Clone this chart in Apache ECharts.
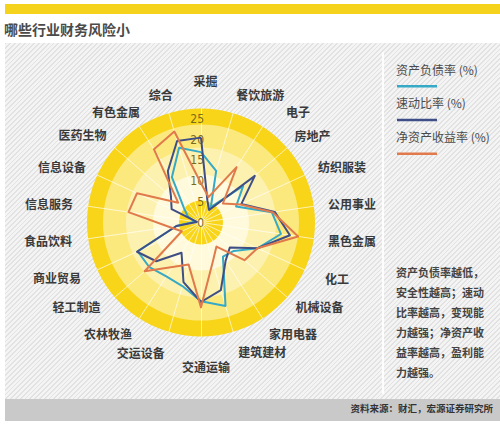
<!DOCTYPE html>
<html>
<head>
<meta charset="utf-8">
<script src="https://cdn.jsdelivr.net/npm/echarts@6/dist/echarts.min.js"></script>
<style>
html,body{margin:0;padding:0;background:#fff;}
#wrap{position:relative;width:500px;height:426px;overflow:hidden;}
#bar{position:absolute;left:5px;top:4px;width:495px;height:10px;background:#f5d31c;}
#panel{position:absolute;left:5px;top:43px;width:495px;height:356px;
  background:repeating-linear-gradient(135deg,#e2e2e2 0px,#e2e2e2 1.3px,#f4f4f4 1.3px,#f4f4f4 3.4px);}
#divider{position:absolute;left:382px;top:52px;width:2px;height:342px;background:#fdfdfd;}
#foot{position:absolute;left:5px;top:399px;width:495px;height:22px;background:#c9c9c9;}
#chart{position:absolute;left:0;top:0;width:500px;height:426px;}
</style>
</head>
<body>
<div id="wrap">
  <div id="bar"></div>
  <div id="panel"></div>
  <div id="divider"></div>
  <div id="foot"></div>
  <div id="chart"></div>
</div>
<script>
// ---- data (clockwise from the top) ----
const indicators = ['采掘','餐饮旅游','电子','房地产','纺织服装','公用事业','黑色金属','化工','机械设备','家用电器','建筑建材','交通运输','交运设备','农林牧渔','轻工制造','商业贸易','食品饮料','信息服务','信息设备','医药生物','有色金属','综合'];
const seriesNames = ['资产负债率 (%)','速动比率 (%)','净资产收益率 (%)'];
const debtRatio  = [17,13,4.4,13.5,9.3,17.3,19.5,15,10.5,9.8,21,19,16,15.5,16.5,16.8,6,1.5,3.5,5.5,13,18.8];
const quickRatio = [20.5,5.5,3.6,17.2,10.7,18,21.7,15,9.2,11,17,19.2,15,8.7,14.3,17,6,1,7.8,9.6,14.8,20.5];
const roe        = [9.5,6.4,15.9,7,10.5,17.5,23.7,15,13.9,6.9,10,20.5,10.6,12.8,18,5.1,7.7,17.7,17,7.3,21,22.9];
const axisMax = 25;
const axisSplits = 5;   // tick labels 0,5,10,15,20,25
const titleText = '哪些行业财务风险小';
const noteText = ['资产负债率越低，','安全性越高；速动','比率越高，变现能','力越强；净资产收','益率越高，盈利能','力越强。'];
const sourceText = '资料来源：财汇，宏源证券研究所';

// ---- styles ----
const colors = ['#35a9c6','#3f4f86','#e07a4c'];
const seriesValues = [debtRatio, quickRatio, roe];
const CENTER = [201, 222.5];
const FONT = '"Noto Sans CJK SC","Noto Sans",sans-serif';
// background bands: [outer radius px, color]
const bands = [[114,'#f8d519'],[98,'#fce97e'],[75,'#fdf1b0'],[48,'#fffadb'],[22,'#f8d519'],[3,'#ffffff']];
// per-name label padding [top, right, bottom, left] (label placement tweaks)
const namePad = [[0,0,72,9],[0,0,65,7],[0,0,53,31],[0,0,44,18],[0,0,28,26],[0,0,9,28],[7,0,0,28],[28,0,0,33],[38,0,0,19],[53,0,0,14],[67,0,0,9],[75,0,0,10],
                 [69,8,0,0],[53,15,0,0],[38,25,0,0],[26,29,0,0],[7,30,0,0],[0,29,9,0],[0,24,28,0],[0,19,46,0],[0,7,53,0],[0,0,64,0]];

// ECharts lays indicators out counter-clockwise; reorder so they run clockwise
const order = [0].concat(indicators.map((_, i) => indicators.length - 1 - i).slice(0, indicators.length - 1));
const ordIndicators = order.map(i => indicators[i]);

const chart = echarts.init(document.getElementById('chart'), null, {renderer:'svg'});

const radars = [];
bands.forEach((b, i) => {
  radars.push({
    center: CENTER, radius: b[0], shape: 'circle', startAngle: 90, z: 1 + i,
    splitNumber: 1,
    indicator: ordIndicators.map(() => ({name: '', min: 0, max: 1})),
    axisName: {show: false},
    axisLine: {show: false}, axisTick: {show: false}, axisLabel: {show: false},
    splitLine: {show: false},
    splitArea: {show: true, areaStyle: {color: [b[1]]}},
    silent: true
  });
});
// spokes
radars.push({
  center: CENTER, radius: bands[0][0], shape: 'circle', startAngle: 90, z: 10,
  splitNumber: 1,
  indicator: ordIndicators.map(() => ({name: '', min: 0, max: 1})),
  axisName: {show: false},
  axisLine: {show: true, lineStyle: {color: 'rgba(255,255,255,0.65)', width: 1}},
  axisTick: {show: false}, axisLabel: {show: false},
  splitLine: {show: false}, splitArea: {show: false}
});
// category names
const rich = {};
indicators.forEach((n, i) => {
  rich['p' + i] = {padding: namePad[i], color: '#3a3a3a', fontSize: 12, fontWeight: 'bold',
    fontFamily: FONT, lineHeight: 12};
});
radars.push({
  center: CENTER, radius: 100, shape: 'circle', startAngle: 90, z: 10,
  splitNumber: 1,
  indicator: ordIndicators.map(n => ({name: n, min: 0, max: 1})),
  nameGap: 0,
  axisName: {color: '#3a3a3a', fontSize: 12, fontWeight: 'bold', fontFamily: FONT,
    formatter: (name) => '{p' + indicators.indexOf(name) + '|' + name + '}', rich: rich},
  axisLine: {show: false}, axisTick: {show: false}, axisLabel: {show: false},
  splitLine: {show: false}, splitArea: {show: false}
});
// data radar (scale 0-25)
const dataRadarIndex = radars.length;
radars.push({
  center: CENTER, radius: 103.5, shape: 'circle', startAngle: 90, z: 11,
  splitNumber: axisSplits,
  indicator: ordIndicators.map((n, i) => {
    const o = {name: n, min: 0, max: axisMax};
    if (i === 0) o.axisLabel = {show: true};
    return o;
  }),
  axisName: {show: false},
  axisLine: {show: false}, axisTick: {show: false},
  axisLabel: {show: false, margin: -3, color: '#7a6a1e', fontSize: 12,
    fontFamily: '"Liberation Sans Narrow","DejaVu Sans Condensed",sans-serif'},
  splitLine: {show: false}, splitArea: {show: false}
});

const graphics = [];
seriesNames.forEach((n, i) => {
  const y0 = 70.5 + i * 33.8;
  graphics.push({type: 'text', left: 396, top: y0 - 7.5,
    style: {text: n, fill: '#4a4a4a', font: '12px ' + FONT}});
  graphics.push({type: 'rect', left: 397, top: y0 + 14.5, shape: {width: 40, height: 2.5},
    style: {fill: colors[i]}});
});
graphics.push({type: 'text', left: 396, top: 262,
  style: {text: noteText.join('\n'), fill: '#444', font: 'bold 11px ' + FONT, lineHeight: 20}});
graphics.push({type: 'text', right: 7, top: 403,
  style: {text: sourceText, fill: '#333', font: 'bold 9.5px ' + FONT}});

chart.setOption({
  animation: false,
  title: {text: titleText, left: 4, top: 22, padding: 0,
    textStyle: {fontSize: 14, fontWeight: 'bold', color: '#4a4a4a', fontFamily: FONT}},
  radar: radars,
  graphic: graphics,
  series: [{
    type: 'radar', radarIndex: dataRadarIndex, z: 20, symbol: 'none',
    data: seriesNames.map((n, i) => ({
      name: n, value: order.map(k => seriesValues[i][k]),
      lineStyle: {color: colors[i], width: 2},
      itemStyle: {color: colors[i]}
    }))
  }]
});
</script>
</body>
</html>
